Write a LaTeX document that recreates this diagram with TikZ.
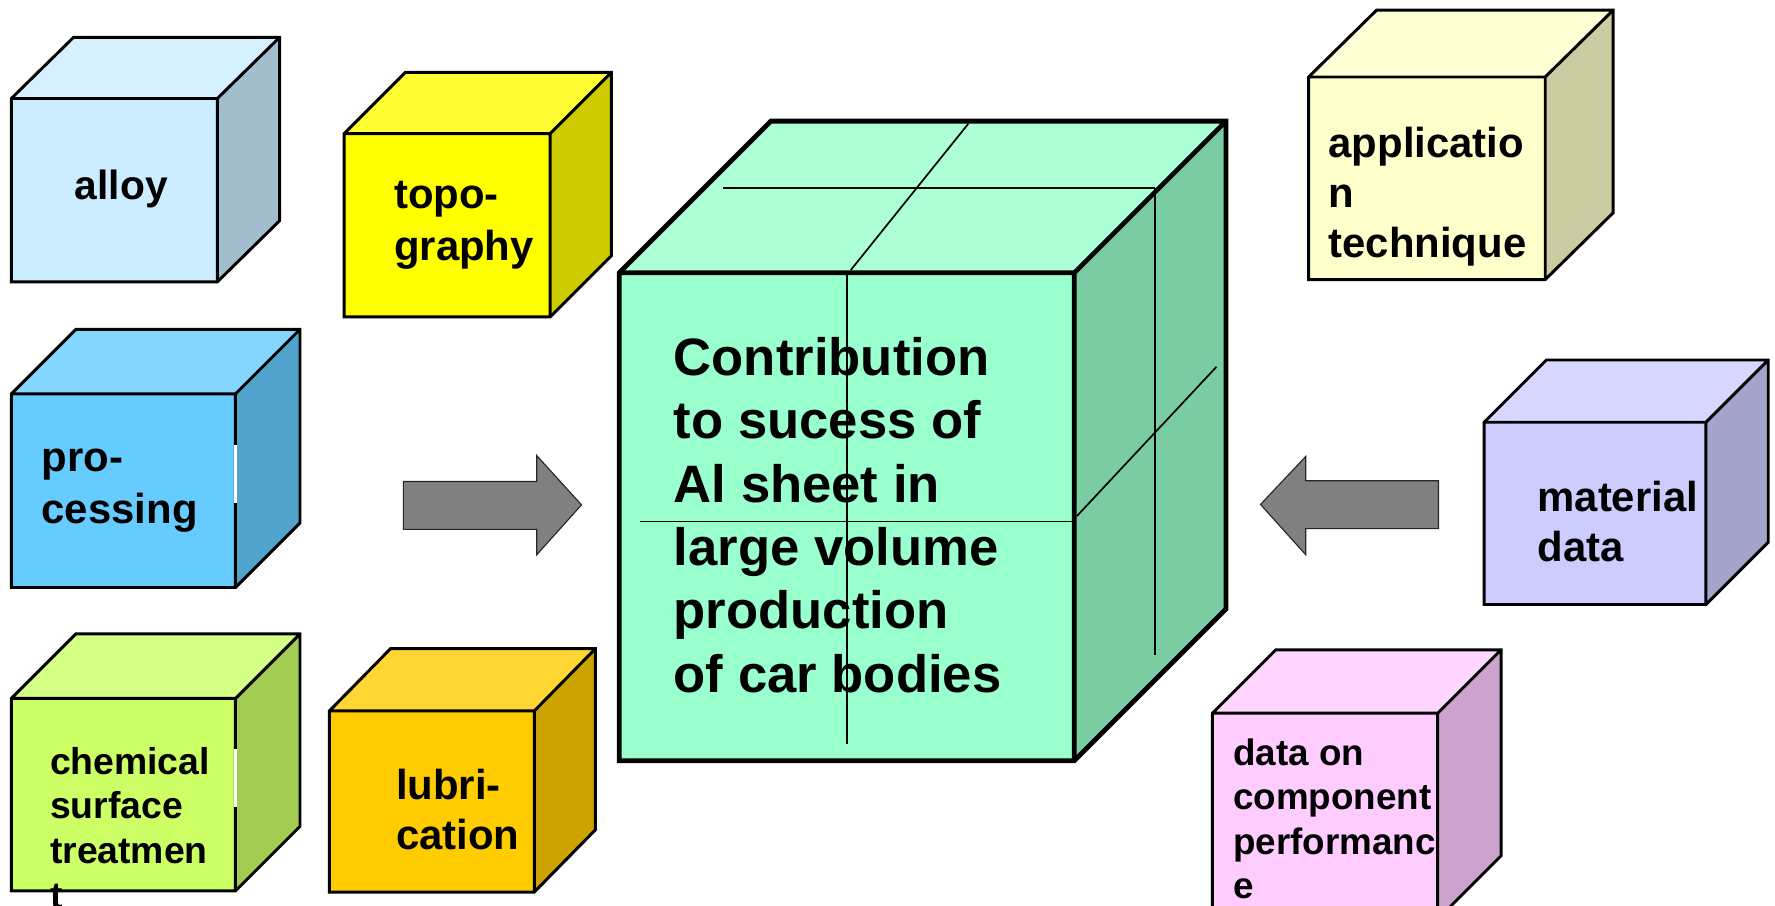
\documentclass[tikz,border=0pt]{standalone}
\usepackage{fontspec}
\setmainfont{Liberation Sans}

% face colours of the cubes (front face; top is lighter, side is darker)
\definecolor{alloyC}{HTML}{CCECFF}
\definecolor{topoC}{HTML}{FFFF00}
\definecolor{procC}{HTML}{66CCFF}
\definecolor{chemC}{HTML}{CCFF66}
\definecolor{lubC}{HTML}{FFCC00}
\definecolor{mainC}{HTML}{99FFCC}
\definecolor{applC}{HTML}{FFFFCC}
\definecolor{matC}{HTML}{CCCCFF}
\definecolor{perfC}{HTML}{FFCCFF}
\definecolor{arrowC}{HTML}{808080}

% faces of a cube: #1 colour, (#2,#3) front top-left, (#4,#5) front bottom-right,
% #6/#7 depth offset
\newcommand\cubefaces[7]{%
  \fill[#1!80!white] (#2,#3) -- (#2+#6,#3-#7) -- (#4+#6,#3-#7) -- (#4,#3) -- cycle;
  \fill[#1!80!black] (#4,#3) -- (#4+#6,#3-#7) -- (#4+#6,#5-#7) -- (#4,#5) -- cycle;
  \fill[#1] (#2,#3) rectangle (#4,#5);
}
% outline of a cube: outer contour plus the three edges meeting at the front corner
\newcommand\cubeedges[7]{%
  \draw[line width=#7, line join=miter]
    (#1,#2) -- (#1+#5,#2-#6) -- (#3+#5,#2-#6) -- (#3+#5,#4-#6) -- (#3,#4) -- (#1,#4) -- cycle
    (#1,#2) -- (#3,#2) -- (#3,#4)
    (#3,#2) -- (#3+#5,#2-#6);
}
\newcommand\boxcube[8]{%
  \cubefaces{#1}{#2}{#3}{#4}{#5}{#6}{#7}%
  \cubeedges{#2}{#3}{#4}{#5}{#6}{#7}{#8}%
}
% stacked lines whose baseline is the first line
\newcommand\ml[1]{\vtop{\halign{##\hfil\cr#1\crcr}}}

\tikzset{
  lbl/.style={inner sep=0pt, anchor=base west, font=\bfseries},
  blockarrow/.style={fill=arrowC, draw=black!85, line width=1pt, line join=miter},
  grid line/.style={line width=1.5pt}
}

\begin{document}
\begin{tikzpicture}[x=1pt, y=-1pt]
\useasboundingbox (0,0) rectangle (1568,800);
\clip (0,0) rectangle (1568,800);

% ---- left-hand cubes ----
\boxcube{alloyC}{10}{87}{192}{249}{55}{54}{2.6pt}
\boxcube{topoC}{304}{118}{486}{280}{54}{54}{2.6pt}
\boxcube{procC}{10}{348}{208}{519}{57}{57}{2.6pt}
\fill[white] (206.6,393.3) rectangle (209.6,444.4);
\boxcube{chemC}{10}{617}{208}{787}{57}{57}{2.6pt}
\fill[white] (206.6,661.7) rectangle (209.6,712.9);
\boxcube{lubC}{291}{628}{472}{788}{54}{55}{2.6pt}

% ---- right-hand cubes ----
\boxcube{applC}{1156}{68}{1365}{247}{60}{59}{2.6pt}
\boxcube{matC}{1311}{373}{1507}{534}{55}{55}{2.6pt}
\boxcube{perfC}{1071}{630}{1270}{812}{56}{56}{2.6pt}

% ---- central cube with its dividing lines ----
\cubefaces{mainC}{547}{241}{949}{672}{134}{134}
\draw[grid line] (638.8,166) -- (1020,166);
\draw[grid line] (855.3,109.4) -- (751.6,238.5);
\draw[grid line] (748,243) -- (748,657);
\draw[grid line] (565.6,460.7) -- (949,460.7);
\draw[grid line] (1020,166) -- (1020,578.7);
\draw[grid line] (951.2,456) -- (1074.6,324);
\cubeedges{547}{241}{949}{672}{134}{134}{4.2pt}

% ---- block arrows pointing at the central cube ----
\coordinate (lefttip) at (513.7,446);
\coordinate (righttip) at (1113.5,445.6);
\draw[blockarrow] (356.3,425.3) -- (474.2,425.3) -- (474.2,402.5) -- (lefttip)
  -- (474.2,490) -- (474.2,467.6) -- (356.3,467.6) -- cycle;
\draw[blockarrow] (1270.7,424.7) -- (1153.4,424.7) -- (1153.4,403.3) -- (righttip)
  -- (1153.4,490) -- (1153.4,467) -- (1270.7,467) -- cycle;

% ---- labels ----
\node[lbl] (alloy) at (66,176) {\fontsize{36}{44}\selectfont\ml{alloy}};
\node[lbl] (topo) at (348,184) {\fontsize{37}{46}\selectfont\ml{topo-\cr graphy}};
\node[lbl] (proc) at (36.6,416.4) {\fontsize{37}{46}\selectfont\ml{pro-\cr cessing}};
\node[lbl] (chem) at (44,683.8) {\fontsize{33}{39.6}\selectfont\ml{chemical\cr surface\cr treatmen\cr t}};
\node[lbl] (lub) at (349.7,706.2) {\fontsize{37}{44.6}\selectfont\ml{lubri-\cr cation}};
\node[lbl] (goal) at (595,331.6) {\fontsize{46.5}{56}\selectfont\ml{Contribution\cr to sucess of\cr Al sheet in\cr large volume\cr production\cr of car bodies}};
\node[lbl] (appl) at (1173.4,138.8) {\fontsize{37}{44.2}\selectfont\ml{applicatio\cr n\cr technique}};
\node[lbl] (mat) at (1358,451.8) {\fontsize{37}{44.2}\selectfont\ml{material\cr data}};
\node[lbl] (perf) at (1089.2,676.4) {\fontsize{32.5}{39.1}\selectfont\ml{data on\cr component\cr performanc\cr e}};
\end{tikzpicture}
\end{document}
